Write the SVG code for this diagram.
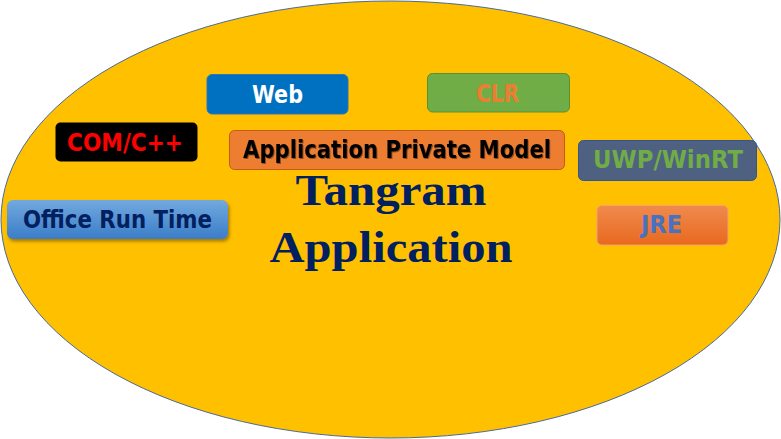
<svg xmlns="http://www.w3.org/2000/svg" width="781" height="439" viewBox="0 0 781 439">
<defs>
<linearGradient id="gOffice" x1="0" y1="0" x2="0" y2="1">
<stop offset="0" stop-color="#72A9DF"/><stop offset="1" stop-color="#3B7DC8"/>
</linearGradient>
<linearGradient id="gJre" x1="0" y1="0" x2="0" y2="1">
<stop offset="0" stop-color="#F08A4E"/><stop offset="1" stop-color="#E8691E"/>
</linearGradient>
<filter id="sh" x="-10%" y="-20%" width="120%" height="150%">
<feDropShadow dx="1.5" dy="2.5" stdDeviation="1.5" flood-color="#000" flood-opacity="0.35"/>
</filter>
<filter id="tsh" x="-5%" y="-20%" width="110%" height="150%">
<feDropShadow dx="1" dy="1" stdDeviation="0.6" flood-color="#000" flood-opacity="0.4"/>
</filter>
</defs>
<style>
.lbl{font-family:"DejaVu Sans","Liberation Sans",sans-serif;font-weight:bold;font-size:24px;text-anchor:middle}
.big{font-family:"Liberation Serif","Times New Roman",serif;font-weight:bold;font-size:45px;fill:#002060;text-anchor:middle}
</style>
<rect width="781" height="439" fill="#FFFFFF"/>
<g id="app">
<ellipse cx="390.5" cy="219.5" rx="389.5" ry="218.5" fill="#FFC000" stroke="#4A6A9A" stroke-width="1"/>
<text class="big" x="391" y="205" textLength="191" lengthAdjust="spacingAndGlyphs">Tangram</text>
<text class="big" x="391" y="262" textLength="243" lengthAdjust="spacingAndGlyphs">Application</text>
</g>
<g id="web">
<rect x="207" y="74.5" width="141" height="39.5" rx="5" fill="#0070C0" stroke="#2E75B6" stroke-width="1"/>
<text class="lbl" x="277.5" y="103" fill="#FFFFFF" textLength="51" lengthAdjust="spacingAndGlyphs">Web</text>
</g>
<g id="clr">
<rect x="427.5" y="73.5" width="142" height="38.5" rx="5" fill="#70AD47" stroke="#5A8F38" stroke-width="1"/>
<text class="lbl" x="497.5" y="102" fill="#ED7D31" textLength="43" lengthAdjust="spacingAndGlyphs">CLR</text>
</g>
<g id="com">
<rect x="55.5" y="122.5" width="142" height="39" rx="5" fill="#000000"/>
<text class="lbl" x="125" y="151" fill="#FF0000" textLength="116" lengthAdjust="spacingAndGlyphs">COM/C++</text>
</g>
<g id="apm">
<rect x="229.5" y="130.5" width="335" height="39" rx="5" fill="#ED7D31" stroke="#C55A11" stroke-width="1"/>
<text class="lbl" x="397" y="158" fill="#000000" filter="url(#tsh)" textLength="308" lengthAdjust="spacingAndGlyphs">Application Private Model</text>
</g>
<g id="uwp">
<rect x="578.5" y="140.5" width="178" height="40" rx="5" fill="#4F6181" stroke="#2E5597" stroke-width="1"/>
<text class="lbl" x="668" y="168" fill="#70AD47" textLength="150" lengthAdjust="spacingAndGlyphs">UWP/WinRT</text>
</g>
<g id="jre">
<rect x="597" y="205.5" width="131" height="39.5" rx="5" fill="url(#gJre)" stroke="#F4A070" stroke-width="1"/>
<text class="lbl" x="661.5" y="233" fill="#4472C4" textLength="41" lengthAdjust="spacingAndGlyphs">JRE</text>
</g>
<g id="office">
<rect x="7" y="200" width="221" height="39" rx="6" fill="url(#gOffice)" filter="url(#sh)"/>
<text class="lbl" x="117.5" y="228" fill="#002060" textLength="189" lengthAdjust="spacingAndGlyphs">Office Run Time</text>
</g>
<g id="connectors"></g>
</svg>
